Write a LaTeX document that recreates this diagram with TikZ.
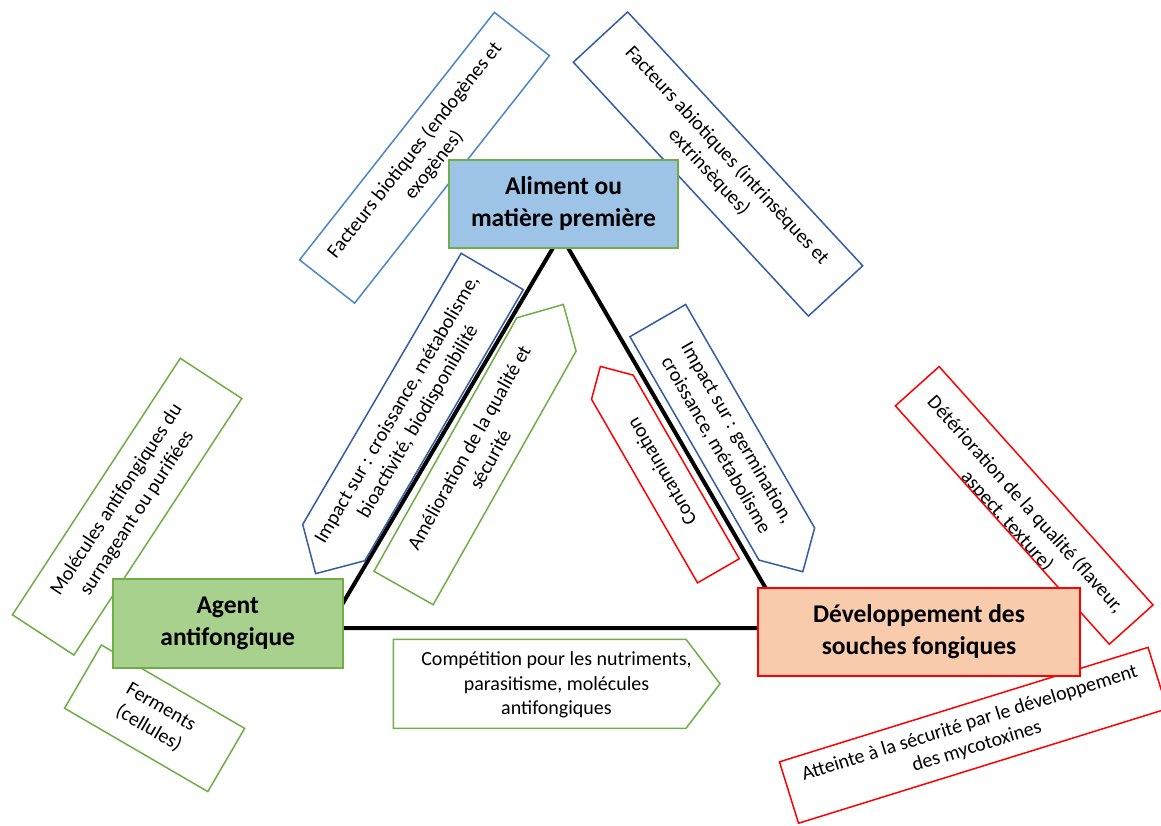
\documentclass[tikz,border=0pt]{standalone}
\usepackage{fontspec}
\setmainfont{Carlito}
\definecolor{gr}{HTML}{70AD47}
\definecolor{bl}{HTML}{4A86C8}
\definecolor{bd}{HTML}{345CA5}
\definecolor{rd}{HTML}{FF0000}
\definecolor{falim}{HTML}{9DC3E6}
\definecolor{fagent}{HTML}{A9D18E}
\definecolor{fdev}{HTML}{F8CBAD}
\tikzset{
 txt/.style={font=\fontsize{20}{24.4}\selectfont, align=center, inner sep=0pt},
 rbox/.style={draw, fill=white, line width=1.5pt, inner sep=0pt, font=\fontsize{20}{24.4}\selectfont, align=center},
 mainbox/.style={draw, line width=2pt, font=\bfseries\fontsize{25.5}{32}\selectfont, align=center, inner sep=0pt},
 shp/.style={draw, fill=white, line width=1.5pt, line join=miter},
 tri/.style={line width=4pt}
}
\begin{document}
\begin{tikzpicture}[x=1pt,y=-1pt]
\useasboundingbox (0,0) rectangle (1161,825);
\clip (0,0) rectangle (1161,825);
% triangle
\coordinate (apex) at (560.6,235);
\coordinate (vl) at (328.2,628);
\coordinate (vr) at (788.8,628);
\draw[tri] (apex) -- (vl) -- (vr) -- cycle;

% rotated rectangles
\node[rbox, draw=bl, rotate=51.8, minimum width=315pt, minimum height=70pt] (biot) at (424.5,157.75) {Facteurs biotiques (endogènes et\\exogènes)};
\node[rbox, draw=bd, rotate=-47.2, minimum width=346pt, minimum height=74pt] (abiot) at (718,164) {Facteurs abiotiques (intrinsèques et\\extrinsèques)};
\node[rbox, draw=gr, rotate=56.8, minimum width=306.6pt, minimum height=73.5pt] (mol) at (127.1,506.65) {Molécules antifongiques du\\surnageant ou purifiées};
\node[rbox, draw=gr, rotate=-30.2, minimum width=165.8pt, minimum height=73.2pt] (ferm) at (154.6,718.3) {Ferments\\(cellules)};
\node[rbox, draw=rd, rotate=17.25, minimum width=386pt, minimum height=64.3pt] (att) at (973.3,735.3) {Atteinte à la sécurité par le développement\\des mycotoxines};

% deterioration (text clipped by its box)
\node[rbox, draw=rd, rotate=-48.1, minimum width=320.3pt, minimum height=58.8pt] (det) at (1024.2,505.4) {};
\begin{scope}[shift={(1024.2,505.4)}, rotate=-48.1]
 \clip (-159.4,-28.7) rectangle (159.4,28.7);
 \node[txt, anchor=base, transform shape] (det1) at (0,4.4) {Détérioration de la qualité (flaveur,};
 \node[txt, anchor=base, transform shape] (det2) at (0,28.8) {aspect, texture)};
\end{scope}

% pentagon arrows
\begin{scope}[shift={(413,407)}, rotate=59.7]
 \draw[shp, draw=bd] (157,-36) -- (157,36) -- (-157,36) -- (-193,0) -- (-157,-36) -- cycle;
 \node[txt, transform shape] (imp1) at (-10,0) {Impact sur : croissance, métabolisme,\\bioactivité, biodisponibilité};
\end{scope}
\begin{scope}[shift={(475,461.25)}, rotate=60.6]
 \draw[shp, draw=gr] (-145.5,-34) -- (145.5,-34) -- (180,0) -- (145.5,34) -- (-145.5,34) -- cycle;
 \node[txt, transform shape] (amel) at (9,0) {Amélioration de la qualité et\\sécurité};
\end{scope}
\begin{scope}[shift={(722.3,432.3)}, rotate=-60]
 \draw[shp, draw=bd] (-129,-32.15) -- (129,-32.15) -- (161,0) -- (129,32.15) -- (-129,32.15) -- cycle;
 \node[txt, transform shape] (germ) at (8,0) {Impact sur : germination,\\croissance, métabolisme};
\end{scope}
\begin{scope}[shift={(665.4,479)}, rotate=120]
 \draw[shp, draw=rd] (-106,-24.1) -- (106,-24.1) -- (130,0) -- (106,24.1) -- (-106,24.1) -- cycle;
 \node[txt, transform shape] (cont) at (8,0) {Contamination};
\end{scope}
\draw[shp, draw=gr] (393.3,639.3) -- (686,639.3) -- (720,683.8) -- (686,728.3) -- (393.3,728.3) -- cycle;
\node[txt] (comp) at (556.5,685) {Compétition pour les nutriments,\\parasitisme, molécules\\antifongiques};

% main boxes
\node[mainbox, draw=gr, fill=falim, minimum width=229pt, minimum height=88pt] (alim) at (563.5,204) {Aliment ou\\matière première};
\node[mainbox, draw=gr, fill=fagent, minimum width=230pt, minimum height=89pt] (agent) at (227.7,623.8) {Agent\\antifongique};
\node[mainbox, draw=rd, fill=fdev, minimum width=322pt, minimum height=87.7pt] (dev) at (919,632.2) {Développement des\\souches fongiques};
\end{tikzpicture}
\end{document}
